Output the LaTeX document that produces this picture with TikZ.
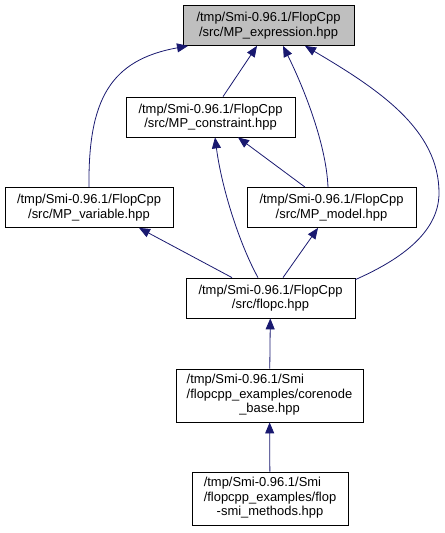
\documentclass[tikz,border=0pt]{standalone}
\usepackage{fontspec}
\setmainfont{Liberation Sans}
\definecolor{edgeblue}{RGB}{25,25,112}
\definecolor{headgray}{RGB}{191,191,191}
\usetikzlibrary{arrows.meta, calc}

\begin{document}
\begin{tikzpicture}[x=1bp, y=-1bp,
  every node/.style={font=\fontsize{13}{14.5}\selectfont},
  filebox/.style={draw=black, line width=0.8bp, inner sep=0pt, align=center,
                  minimum height=40bp},
  deep/.style={filebox, minimum height=53bp},
  incl/.style={draw=edgeblue, line width=0.8bp,
               -{Triangle[length=11bp, width=9bp, fill=edgeblue]}}]
\useasboundingbox (0,0) rectangle (445,533);
% Header file at the top
\node[filebox, fill=headgray, minimum width=171bp] (expr) at (268.5,25.5)
  {/tmp/Smi-0.96.1/FlopCpp\\/src/MP\_expression.hpp};
% Files that include it
\node[filebox, minimum width=169bp] (cons) at (210.5,117)
  {/tmp/Smi-0.96.1/FlopCpp\\/src/MP\_constraint.hpp};
\node[filebox, minimum width=168bp] (var) at (89,207.5)
  {/tmp/Smi-0.96.1/FlopCpp\\/src/MP\_variable.hpp};
\node[filebox, minimum width=169bp] (model) at (331.5,207.5)
  {/tmp/Smi-0.96.1/FlopCpp\\/src/MP\_model.hpp};
\node[filebox, minimum width=169bp] (flopc) at (270.5,298)
  {/tmp/Smi-0.96.1/FlopCpp\\/src/flopc.hpp};
% Smi example files
\node[deep, minimum width=187bp] (core) at (269.5,395.5)
  {\begin{tabular}{@{}l@{}}/tmp/Smi-0.96.1/Smi\\/flopcpp\_examples/corenode\\
   \multicolumn{1}{@{}c@{}}{\_base.hpp}\end{tabular}};
\node[deep, minimum width=156bp] (meth) at (270,498.5)
  {\begin{tabular}{@{}l@{}}/tmp/Smi-0.96.1/Smi\\/flopcpp\_examples/flop\\
   \multicolumn{1}{@{}c@{}}{-smi\_methods.hpp}\end{tabular}};
% Include arrows
\draw[incl] (var.north) .. controls (88,100) and (110,60) .. ($(expr.south)+(-80.5,0)$);
\draw[incl] ($(cons.north)+(12.5,0)$) -- ($(expr.south)+(-11.5,0)$);
\draw[incl] ($(model.north)+(-3.5,0)$) .. controls (326,140) and (300,80)
  .. ($(expr.south)+(14.5,0)$);
\draw[incl] ($(flopc.north east)+(0,2)$) .. controls (395,262) and (439,235) .. (439,193)
  .. controls (439,130) and (380,90) .. ($(expr.south)+(36.5,0)$);
\draw[incl] ($(flopc.north)+(-12.5,0)$) .. controls (240,245) and (222,190)
  .. ($(cons.south)+(4.5,0)$);
\draw[incl] ($(model.north)+(-26.5,0)$) -- ($(cons.south)+(27.5,0)$);
\draw[incl] ($(flopc.north)+(-38.5,0)$) -- ($(var.south)+(50,0)$);
\draw[incl] ($(flopc.north)+(12.5,0)$) -- ($(model.south)+(-13.5,0)$);
\draw[incl] (core) -- (flopc);
\draw[incl] (meth) -- (core);
\end{tikzpicture}
\end{document}
